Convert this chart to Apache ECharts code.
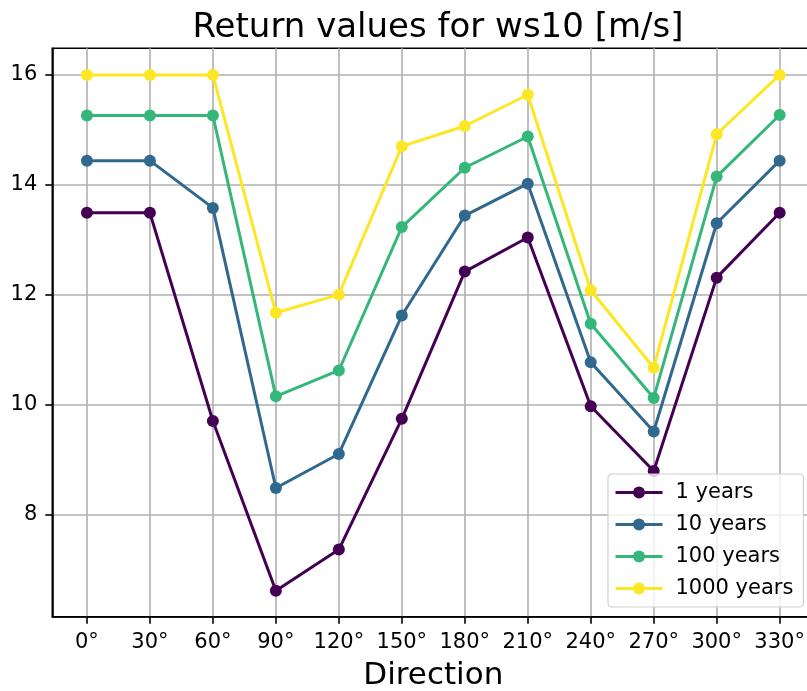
<!DOCTYPE html>
<html>
<head>
<meta charset="utf-8">
<script src="https://cdn.jsdelivr.net/npm/echarts@6/dist/echarts.min.js"></script>
<style>html,body{margin:0;padding:0;background:#fff;}#c{width:807px;height:691px;}</style>
</head>
<body>
<div id="c"></div>
<script>
const directions = ['0°','30°','60°','90°','120°','150°','180°','210°','240°','270°','300°','330°'];
const yTicks = [8, 10, 12, 14, 16];
const seriesNames = ['1 years', '10 years', '100 years', '1000 years'];
const rv1 = [13.49, 13.49, 9.70, 6.61, 7.36, 9.74, 12.42, 13.04, 9.97, 8.79, 12.31, 13.49];
const rv10 = [14.44, 14.44, 13.58, 8.48, 9.10, 11.62, 13.44, 14.02, 10.77, 9.51, 13.30, 14.44];
const rv100 = [15.26, 15.26, 15.26, 10.15, 10.62, 13.23, 14.31, 14.88, 11.47, 10.12, 14.15, 15.27];
const rv1000 = [16.0, 16.0, 16.0, 11.67, 12.0, 14.70, 15.07, 15.64, 12.08, 10.67, 14.92, 16.0];
const colors = ['#440154', '#31688e', '#35b779', '#fde725'];

const allSeries = [rv1, rv10, rv100, rv1000];
const font = 'DejaVu Sans';
const xIdx = directions.map((d, i) => i);

const chart = echarts.init(document.getElementById('c'), null, {renderer: 'canvas'});
chart.setOption({
  animation: false,
  backgroundColor: '#fff',
  title: {
    text: 'Return values for ws10 [m/s]',
    left: 433, top: 6, textAlign: 'center',
    textStyle: {fontFamily: font, fontSize: 34, fontWeight: 'normal', color: '#000'}
  },
  grid: {
    left: 52.3, top: 48.3, width: 762, height: 568.4,
    outerBoundsMode: 'none', containLabel: false,
    show: true, borderColor: '#000', borderWidth: 1.6, backgroundColor: 'transparent'
  },
  legend: {
    orient: 'vertical', left: 608, top: 474,
    itemWidth: 47, itemHeight: 15, itemGap: 11,
    padding: [8, 10, 8, 6],
    backgroundColor: 'rgba(255,255,255,0.8)', borderColor: '#d0d0d0', borderWidth: 1.2, borderRadius: 4,
    lineStyle: {width: 3},
    textStyle: {fontFamily: font, fontSize: 21, color: '#000', padding: [0, 0, 0, 8]},
    data: seriesNames
  },
  xAxis: {
    type: 'value', min: -0.55, max: 11.55,
    name: 'Direction', nameLocation: 'middle', nameGap: 44,
    nameTextStyle: {fontFamily: font, fontSize: 31, color: '#000'},
    axisLine: {show: true, onZero: false, lineStyle: {color: '#000', width: 1.6}},
    axisTick: {show: true, inside: false, length: 7, lineStyle: {color: '#000', width: 1.6}, customValues: xIdx},
    axisLabel: {show: true, margin: 15, fontFamily: font, fontSize: 21, color: '#000', customValues: xIdx,
      formatter: v => directions[Math.round(v)]},
    splitLine: {show: true, lineStyle: {color: '#b0b0b0', width: 1.6}}
  },
  yAxis: {
    type: 'value', min: 6.138, max: 16.485,
    axisLine: {show: true, onZero: false, lineStyle: {color: '#000', width: 1.6}},
    axisTick: {show: true, inside: false, length: 7, lineStyle: {color: '#000', width: 1.6}, customValues: yTicks},
    axisLabel: {show: true, margin: 15, fontFamily: font, fontSize: 21, color: '#000', customValues: yTicks,
      formatter: v => String(Math.round(v))},
    splitLine: {show: true, lineStyle: {color: '#b0b0b0', width: 1.6}}
  },
  series: seriesNames.map((name, k) => ({
    name: name, type: 'line',
    data: allSeries[k].map((v, i) => [xIdx[i], v]),
    symbol: 'circle', symbolSize: 12, showSymbol: true,
    itemStyle: {color: colors[k]},
    lineStyle: {color: colors[k], width: 3},
    emphasis: {disabled: true}
  }))
});
</script>
</body>
</html>
